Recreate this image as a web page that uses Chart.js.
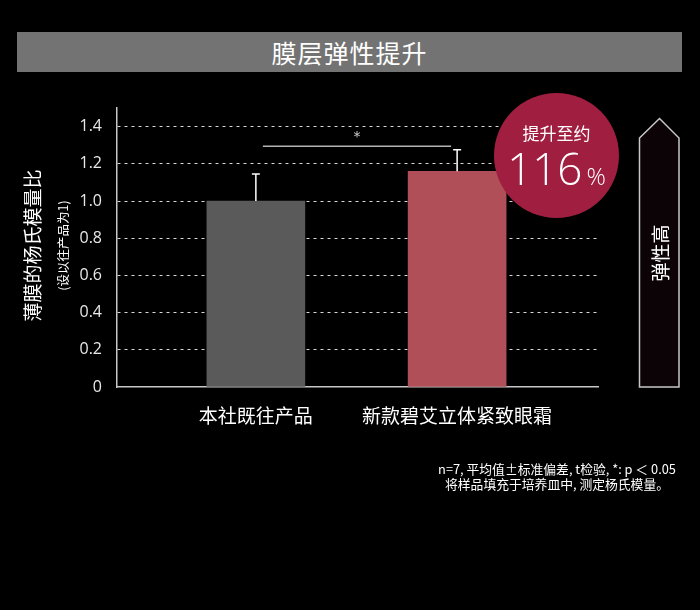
<!DOCTYPE html>
<html><head><meta charset="utf-8">
<script src="https://cdn.jsdelivr.net/npm/chart.js@4.4.0/dist/chart.umd.min.js"></script>
<style>
html,body{margin:0;padding:0;background:#000;width:700px;height:610px;overflow:hidden;font-family:"Noto Sans CJK SC","Noto Sans",sans-serif;}
#wrap{position:absolute;left:0;top:0;width:700px;height:610px;}
#title{position:absolute;left:17px;top:32px;width:665px;height:40px;background:#737373;color:#fff;font-size:25px;line-height:40px;text-align:center;letter-spacing:1px;}
#circle{position:absolute;left:494px;top:93px;width:125px;height:125px;border-radius:50%;background:#a01e40;color:#fff;text-align:center;}
#circle .a{position:absolute;left:0;right:0;top:30px;font-size:17px;line-height:20px;}
#circle .b{position:absolute;left:0;right:0;top:52px;font-size:44px;line-height:46px;font-family:"Open Sans","Noto Sans",sans-serif;font-weight:300;}
#circle .b span{font-size:24px;margin-left:4px;}
#arrow{position:absolute;left:638px;top:117px;width:44px;height:272px;}
#arrowtxt{position:absolute;left:659px;top:253px;transform:translate(-50%,-50%) rotate(-90deg);color:#fff;font-size:19px;white-space:nowrap;}
#note{position:absolute;left:417px;top:461px;width:280px;text-align:center;color:#fff;font-size:12.8px;line-height:15px;}
canvas{position:absolute;left:0;top:0;}
</style></head>
<body>
<div id="wrap">
<canvas id="c" width="700" height="610"></canvas>
<div id="title">膜层弹性提升</div>
<div id="circle"><div class="a">提升至约</div><div class="b">116<span>%</span></div></div>
<svg id="arrow" width="44" height="272" viewBox="0 0 44 272"><polygon points="1.5,21 21.5,1.5 41,21 41,270 1.5,270" fill="#0b0306" stroke="#c8c8c8" stroke-width="1.5"/></svg>
<div id="arrowtxt">弹性高</div>
<div id="note">n=7, 平均值±标准偏差, t检验, *: p ＜ 0.05<br>将样品填充于培养皿中, 测定杨氏模量。</div>
</div>
<script>
const categories = ["本社既往产品", "新款碧艾立体紧致眼霜"];
const positions = [1, 2];
const values = [1.0, 1.16];
const errors = [0.145, 0.115];
const barColors = ["#5a5a5a", "#b04f58"];
const yTicks = [0, 0.2, 0.4, 0.6, 0.8, 1.0, 1.2, 1.4];
const sigLevel = 1.3;
const sigLabel = "*";
const yTitle = "薄膜的杨氏模量比";
const ySubTitle = "(设以往产品为1)";

const overlay = {
  id: 'overlay',
  afterDatasetsDraw(chart) {
    const ctx = chart.ctx, xs = chart.scales.x, ys = chart.scales.y;
    ctx.save();
    ctx.strokeStyle = '#ffffff';
    ctx.lineWidth = 1.5;
    values.forEach((v, i) => {
      const px = xs.getPixelForValue(positions[i]);
      const top = ys.getPixelForValue(v + errors[i]);
      const base = ys.getPixelForValue(v);
      ctx.beginPath();
      ctx.moveTo(px, base); ctx.lineTo(px, top);
      ctx.moveTo(px - 4, top); ctx.lineTo(px + 4, top);
      ctx.stroke();
    });
    const x1 = xs.getPixelForValue(positions[0]) + 7;
    const x2 = xs.getPixelForValue(positions[1]) - 6;
    const sy = ys.getPixelForValue(sigLevel) + 1;
    ctx.strokeStyle = '#b4b4b4';
    ctx.lineWidth = 1.5;
    ctx.beginPath(); ctx.moveTo(x1, sy); ctx.lineTo(x2, sy); ctx.stroke();
    ctx.fillStyle = '#cfcfcf';
    ctx.font = '14px "DejaVu Sans", sans-serif';
    ctx.textAlign = 'center'; ctx.textBaseline = 'middle';
    ctx.fillText(sigLabel, (x1 + x2) / 2, sy - 9);
    const cy = (ys.top + ys.bottom) / 2 - 2;
    ctx.fillStyle = '#ffffff';
    ctx.translate(33, cy);
    ctx.rotate(-Math.PI / 2);
    ctx.font = '19px "Noto Sans CJK SC", sans-serif';
    ctx.fillText(yTitle, 0, 0);
    ctx.font = '12.5px "Noto Sans CJK SC", sans-serif';
    ctx.fillText(ySubTitle, 0, 30);
    ctx.restore();
  }
};

new Chart(document.getElementById('c'), {
  type: 'bar',
  data: {
    datasets: [{
      data: positions.map((p, i) => ({x: p, y: values[i]})),
      backgroundColor: barColors,
      borderWidth: 0,
      barThickness: 98
    }]
  },
  options: {
    responsive: false,
    animation: false,
    devicePixelRatio: 1,
    layout: {padding: {left: 0, right: 102, top: 108, bottom: 0}},
    plugins: {legend: {display: false}, tooltip: {enabled: false}},
    scales: {
      x: {
        type: 'linear',
        offset: false,
        bounds: 'data',
        min: 0.31, max: 2.7,
        afterDataLimits: s => { s.min = 0.31; s.max = 2.7; },
        afterBuildTicks: s => { s.ticks = positions.map(v => ({value: v})); },
        afterFit: s => { s.height = 610 - 387; },
        grid: {display: false, drawTicks: false, offset: false},
        border: {display: true, color: '#c8c8c8', width: 1.5},
        ticks: {
          padding: 17,
          color: '#ffffff',
          font: {size: 19, family: '"Noto Sans CJK SC", sans-serif'},
          callback: v => categories[positions.indexOf(v)] || '',
          maxRotation: 0, autoSkip: false
        }
      },
      y: {
        min: 0, max: 1.5,
        afterBuildTicks: s => { s.ticks = yTicks.map(v => ({value: v})); },
        afterFit: s => { s.width = 117; },
        grid: {
          drawTicks: false,
          color: c => c.tick && c.tick.value === 0 ? 'rgba(0,0,0,0)' : 'rgba(255,255,255,0.85)',
          lineWidth: 1
        },
        border: {display: true, color: '#c8c8c8', width: 1.5, dash: [3, 4]},
        ticks: {
          padding: 15,
          color: '#e8e8e8',
          font: {size: 16, family: '"Open Sans", "Noto Sans", sans-serif'},
          callback: v => (v === 0 ? '0' : v.toFixed(1))
        }
      }
    }
  },
  plugins: [overlay]
});
</script>
</body></html>
